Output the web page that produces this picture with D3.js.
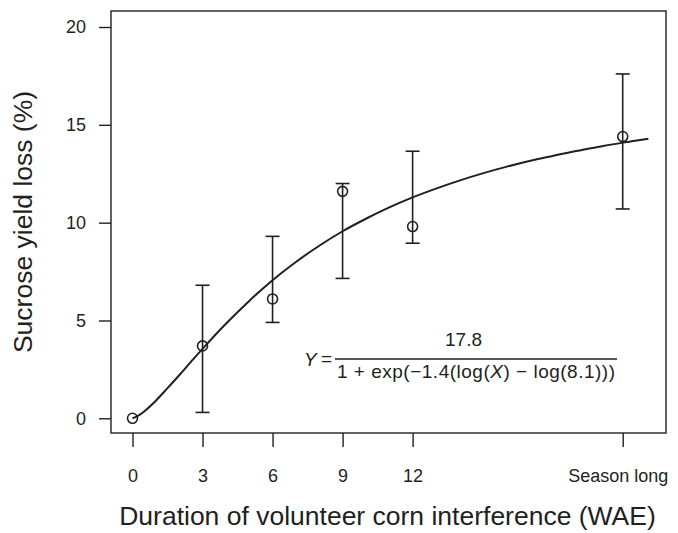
<!DOCTYPE html>
<html>
<head>
<meta charset="utf-8">
<script src="https://cdn.jsdelivr.net/npm/d3@7"></script>
<style>
  body { margin: 0; background: #fff; }
  svg { display: block; font-family: "Liberation Sans", Arial, Helvetica, sans-serif; }
</style>
</head>
<body>
<svg id="chart" width="678" height="533"></svg>
<script>
// ---- data ----
const xTickValues = [0, 3, 6, 9, 12, 21];
const xTickLabels = ["0", "3", "6", "9", "12", "Season long"];
const yTickValues = [0, 5, 10, 15, 20];

const obsX    = [0, 3, 6, 9, 12, 21];
const obsY    = [0, 3.7, 6.1, 11.6, 9.8, 14.4];
const obsLow  = [0, 0.3, 4.9, 7.15, 8.95, 10.7];
const obsHigh = [0, 6.8, 9.3, 12.0, 13.65, 17.6];

// fitted curve as shown
const curveX = [0, 0.25, 0.5, 1, 1.5, 2, 2.5, 3, 4, 5, 6, 7, 8, 9, 10, 11, 12, 13, 14, 15, 16, 17, 18, 19, 20, 21, 22.1];
const curveY = [0, 0.14, 0.35, 0.90, 1.54, 2.20, 2.88, 3.55, 4.83, 6.00, 7.06, 7.99, 8.82, 9.56, 10.20, 10.78, 11.29, 11.74, 12.15, 12.52, 12.85, 13.15, 13.41, 13.66, 13.88, 14.09, 14.29];

const yTitle = "Sucrose yield loss (%)";
const xTitle = "Duration of volunteer corn interference (WAE)";

// ---- layout ----
const ink = "#231f20";
const box = { left: 111, right: 666, top: 11, bottom: 433 };
const svg = d3.select("#chart");

const x = d3.scaleLinear().domain([0, 21]).range([132.5, 622.7]);
const y = d3.scaleLinear().domain([0, 20]).range([418.3, 27]);

// frame
svg.append("rect")
  .attr("x", box.left).attr("y", box.top)
  .attr("width", box.right - box.left).attr("height", box.bottom - box.top)
  .attr("fill", "none").attr("stroke", ink).attr("stroke-width", 1.4);

// y axis
const yAxis = d3.axisLeft(y).tickValues(yTickValues).tickSize(12).tickPadding(13)
  .tickFormat(d3.format("d"));
const gy = svg.append("g").attr("transform", `translate(${box.left},0)`).call(yAxis);
gy.select(".domain").remove();
gy.selectAll(".tick line").attr("stroke", ink).attr("stroke-width", 1.4);
gy.selectAll(".tick text").attr("fill", ink).style("font-size", "18px")
  .attr("font-family", "Liberation Sans, Arial, sans-serif");

// x axis
const xAxis = d3.axisBottom(x).tickValues(xTickValues).tickSize(14).tickPadding(22)
  .tickFormat((d, i) => xTickLabels[i]);
const gx = svg.append("g").attr("transform", `translate(0,${box.bottom})`).call(xAxis);
gx.select(".domain").remove();
gx.selectAll(".tick line").attr("stroke", ink).attr("stroke-width", 1.4);
gx.selectAll(".tick text").attr("fill", ink).style("font-size", "18px")
  .attr("font-family", "Liberation Sans, Arial, sans-serif");
gx.selectAll(".tick text").filter((d, i) => i === xTickValues.length - 1)
  .attr("dx", -5);

// axis titles
svg.append("text")
  .attr("transform", `translate(32,${(box.top + box.bottom) / 2}) rotate(-90)`)
  .attr("text-anchor", "middle").attr("fill", ink)
  .style("font-size", "26.5px").text(yTitle);
svg.append("text")
  .attr("x", (117 + 658) / 2).attr("y", 525)
  .attr("text-anchor", "middle").attr("fill", ink)
  .style("font-size", "26.5px").text(xTitle);

// curve
const curvePts = curveX.map((d, i) => [d, curveY[i]]);
svg.append("path")
  .datum(curvePts)
  .attr("fill", "none").attr("stroke", ink).attr("stroke-width", 2)
  .attr("d", d3.line().x(d => x(d[0])).y(d => y(d[1])).curve(d3.curveCatmullRom));

// error bars
const obs = obsX.map((d, i) => ({ x: d, y: obsY[i], lo: obsLow[i], hi: obsHigh[i] }));
const eb = svg.append("g").attr("stroke", ink).attr("stroke-width", 1.6);
obs.filter(d => d.hi > d.lo).forEach(d => {
  eb.append("line").attr("x1", x(d.x)).attr("x2", x(d.x)).attr("y1", y(d.lo)).attr("y2", y(d.hi));
  eb.append("line").attr("x1", x(d.x) - 7).attr("x2", x(d.x) + 7).attr("y1", y(d.lo)).attr("y2", y(d.lo));
  eb.append("line").attr("x1", x(d.x) - 7).attr("x2", x(d.x) + 7).attr("y1", y(d.hi)).attr("y2", y(d.hi));
});

// points
svg.append("g").selectAll("circle").data(obs).join("circle")
  .attr("cx", d => x(d.x)).attr("cy", d => y(d.y)).attr("r", 5)
  .attr("fill", "none").attr("stroke", ink).attr("stroke-width", 1.6);

// equation
const eq = svg.append("g").attr("fill", ink).style("font-size", "19px");
eq.append("text").attr("x", 304).attr("y", 366).style("font-style", "italic").text("Y");
eq.append("text").attr("x", 321).attr("y", 365).text("=");
eq.append("line").attr("x1", 335).attr("x2", 617).attr("y1", 359).attr("y2", 359)
  .attr("stroke", ink).attr("stroke-width", 1.3);
eq.append("text").attr("x", 463.5).attr("y", 346).attr("text-anchor", "middle").text("17.8");
const den = eq.append("text").attr("x", 337).attr("y", 378)
  .attr("textLength", 278).attr("lengthAdjust", "spacing");
den.append("tspan").text("1 + exp(\u22121.4(log(");
den.append("tspan").style("font-style", "italic").text("X");
den.append("tspan").text(") \u2212 log(8.1)))");
</script>
</body>
</html>
